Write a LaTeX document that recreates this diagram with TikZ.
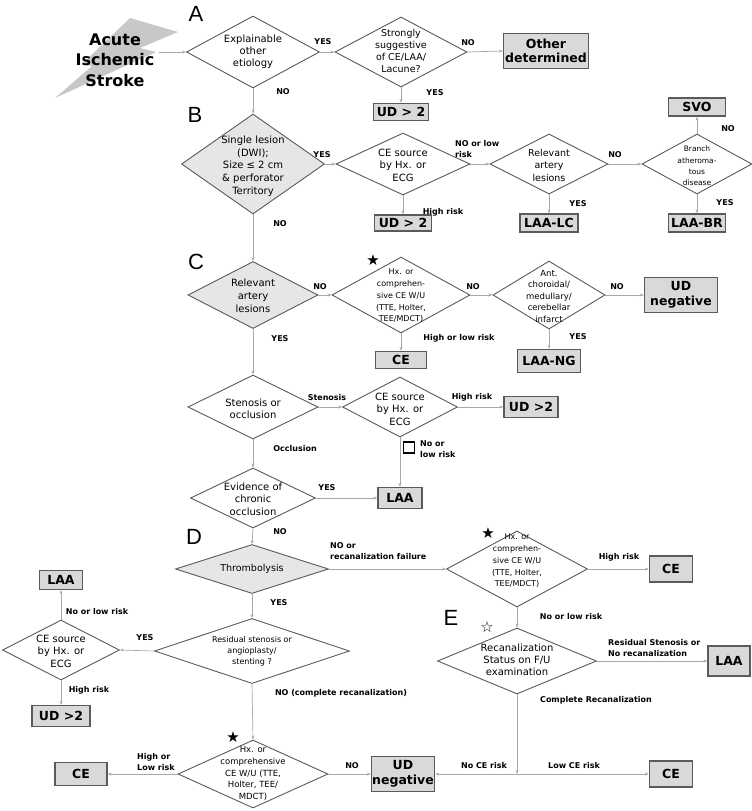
\documentclass[tikz,border=0pt]{standalone}
\usepackage{fontspec}
\setmainfont{DejaVu Sans}
\newfontfamily\letterfont{Liberation Sans}
\usetikzlibrary{arrows.meta,shapes.geometric}
\definecolor{dline}{HTML}{5A5A5A}
\definecolor{cline}{HTML}{A8A8A8}
\definecolor{bfill}{HTML}{D9D9D9}
\definecolor{dfill}{HTML}{E6E6E6}
\definecolor{boltc}{HTML}{C8C8C8}
\tikzset{
  dia/.style={diamond, draw=dline, line width=0.9pt, fill=white, inner sep=0pt},
  gdia/.style={dia, fill=dfill},
  box/.style={rectangle, draw=dline, line width=1.3pt, fill=bfill, inner sep=0pt,
    font=\bfseries\fontsize{12.5}{14.5}\selectfont, align=center},
  dt/.style={align=center, inner sep=0pt, font=\fontsize{10}{12}\selectfont},
  lab/.style={inner sep=0pt, font=\bfseries\fontsize{8}{11}\selectfont},
  labl/.style={lab, align=left, anchor=west},
  letter/.style={inner sep=0pt, font=\letterfont\fontsize{22}{22}\selectfont},
  starn/.style={inner sep=0pt, font=\fontsize{15}{15}\selectfont},
  conn/.style={draw=cline, line width=0.7pt, -{Stealth[length=4pt,width=3pt]}},
  plain/.style={draw=cline, line width=0.7pt}
}
\begin{document}
\begin{tikzpicture}[x=1pt,y=-1pt]
\useasboundingbox (0,0) rectangle (752,811);
\fill[white] (0,0) rectangle (752,811);
% lightning bolt
\fill[boltc] (130,18) -- (178,32) -- (140,48) -- (156,52) -- (55,98) -- (92,66) -- (82,64) -- cycle;
\node[inner sep=0pt, align=center, font=\bfseries\fontsize{16}{20.5}\selectfont] (stroke) at (115,60) {Acute\\Ischemic\\Stroke};
\coordinate (sout) at (159,52);

% section letters
\node[letter] (lA) at (196,14) {A};
\node[letter] (lB) at (195,115) {B};
\node[letter] (lC) at (196,262) {C};
\node[letter] (lD) at (194,537) {D};
\node[letter] (lE) at (451,618) {E};

% ---------- A ----------
\node[dia, minimum width=133, minimum height=72] (a1) at (253,52) {};
\node[dt] (a1t) at (253,52) {Explainable\\other\\etiology};
\node[dia, minimum width=132, minimum height=70] (a2) at (401,52) {};
\node[dt, font=\fontsize{9.5}{11.7}\selectfont] (a2t) at (401,51) {Strongly\\suggestive\\of CE/LAA/\\Lacune?};
\node[box, minimum width=85, minimum height=35] (od) at (546,51) {Other\\determined};
\node[box, minimum width=55, minimum height=17] (ud1) at (401,112) {UD > 2};

% ---------- B ----------
\node[gdia, minimum width=143, minimum height=100] (b1) at (253,164) {};
\node[dt, font=\fontsize{10}{12.7}\selectfont] (b1t) at (253,166) {Single lesion\\(DWI);\\Size ≤ 2 cm\\\& perforator\\Territory};
\node[dia, minimum width=134, minimum height=62] (b2) at (403,164) {};
\node[dt, font=\fontsize{10}{12.5}\selectfont] (b2t) at (403,165) {CE source\\by Hx. or\\ECG};
\node[dia, minimum width=118, minimum height=60] (b3) at (549,164) {};
\node[dt, font=\fontsize{9.5}{12.5}\selectfont] (b3t) at (549,165) {Relevant\\artery\\lesions};
\node[dia, minimum width=110, minimum height=60] (b4) at (697,164) {};
\node[dt, font=\fontsize{7.5}{11.3}\selectfont] (b4t) at (697,166) {Branch\\atheroma-\\tous\\disease};
\node[box, minimum width=57, minimum height=16] (ud2) at (403,223) {UD > 2};
\node[box, minimum width=58, minimum height=18] (laalc) at (549,223) {LAA-LC};
\node[box, minimum width=57, minimum height=18] (svo) at (697,107) {SVO};
\node[box, minimum width=57, minimum height=18] (laabr) at (697,223) {LAA-BR};

% ---------- C ----------
\node[gdia, minimum width=130, minimum height=67] (c1) at (253,295) {};
\node[dt, font=\fontsize{10}{13}\selectfont] (c1t) at (253,296) {Relevant\\artery\\lesions};
\node[dia, minimum width=138, minimum height=76] (c2) at (401,295) {};
\node[dt, font=\fontsize{8}{11.8}\selectfont] (c2t) at (401,296) {Hx. or\\comprehen-\\sive CE W/U\\(TTE, Holter,\\TEE/MDCT)};
\node[starn] (st1) at (373,260) {★};
\node[dia, minimum width=112, minimum height=68] (c3) at (549,295) {};
\node[dt, font=\fontsize{8.5}{11.5}\selectfont] (c3t) at (549,296) {Ant.\\choroidal/\\medullary/\\cerebellar\\infarct};
\node[box, minimum width=73, minimum height=35] (udn1) at (681,295) {UD\\negative};
\node[box, minimum width=63, minimum height=23] (laang) at (549,361) {LAA-NG};
\node[box, minimum width=51, minimum height=17] (ce1) at (401,360) {CE};

\node[dia, minimum width=130, minimum height=64] (c4) at (253,407) {};
\node[dt, font=\fontsize{10}{11.7}\selectfont] (c4t) at (253,408.5) {Stenosis or\\occlusion};
\node[dia, minimum width=115, minimum height=60] (c5) at (400,407) {};
\node[dt, font=\fontsize{10}{12.5}\selectfont] (c5t) at (400,409) {CE source\\by Hx. or\\ECG};
\node[box, minimum width=54, minimum height=21] (ud3) at (531,407) {UD >2};
\node[dia, minimum width=125, minimum height=60] (c6) at (253,498) {};
\node[dt, font=\fontsize{10}{12.5}\selectfont] (c6t) at (253,499) {Evidence of\\chronic\\occlusion};
\node[box, minimum width=44, minimum height=21] (laa1) at (400,498) {LAA};
\node[draw=black, line width=1.2pt, minimum size=11, inner sep=0pt] (sq) at (409,447.5) {};

% ---------- D ----------
\node[gdia, minimum width=153, minimum height=49] (d1) at (252,569) {};
\node[dt, font=\fontsize{9.5}{12}\selectfont] (d1t) at (252,569) {Thrombolysis};
\node[dia, minimum width=141, minimum height=76] (d2) at (517,569) {};
\node[dt, font=\fontsize{8}{11.7}\selectfont] (d2t) at (517,561) {Hx. or\\comprehen-\\sive CE W/U\\(TTE, Holter,\\TEE/MDCT)};
\node[starn] (st2) at (488,533) {★};
\node[box, minimum width=43, minimum height=26] (ce2) at (671,569) {CE};

\node[dia, minimum width=159, minimum height=66] (e1) at (517,661) {};
\node[dt, font=\fontsize{10}{12}\selectfont] (e1t) at (517,660) {Recanalization\\Status on F/U\\examination};
\node[starn] (st3) at (487,627) {☆};
\node[box, minimum width=42, minimum height=30] (laa2) at (729,661) {LAA};

\node[dia, minimum width=195, minimum height=65] (d3) at (252,651) {};
\node[dt, font=\fontsize{8}{11}\selectfont] (d3t) at (252,651) {Residual stenosis or\\angioplasty/\\stenting ?};
\node[dia, minimum width=117, minimum height=60] (d4) at (61,650) {};
\node[dt, font=\fontsize{10}{12.5}\selectfont] (d4t) at (61,651) {CE source\\by Hx. or\\ECG};
\node[box, minimum width=43, minimum height=19] (laa3) at (61,580) {LAA};
\node[box, minimum width=58, minimum height=21] (ud4) at (61,716) {UD >2};

\node[dia, minimum width=150, minimum height=68] (d5) at (253,774) {};
\node[dt, font=\fontsize{8.5}{11.8}\selectfont] (d5t) at (253,773.5) {Hx. or\\comprehensive\\CE W/U (TTE,\\Holter, TEE/\\MDCT)};
\node[starn] (st4) at (233,737) {★};
\node[box, minimum width=52, minimum height=23] (ce4) at (81,774) {CE};
\node[box, minimum width=63, minimum height=35] (udn2) at (403,774) {UD\\negative};
\node[box, minimum width=43, minimum height=26] (ce3) at (671,774) {CE};
\coordinate (j) at (517,774);

% ---------- connectors ----------
\draw[conn] (sout) -- (a1.west);
\draw[conn] (a1.east) -- (a2.west);
\draw[conn] (a2.east) -- (od.west);
\draw[conn] (a2.south) -- (ud1.north);
\draw[conn] (a1.south) -- (b1.north);
\draw[conn] (b1.east) -- (b2.west);
\draw[conn] (b2.east) -- (b3.west);
\draw[conn] (b2.south) -- (ud2.north);
\draw[conn] (b3.east) -- (b4.west);
\draw[conn] (b3.south) -- (laalc.north);
\draw[conn] (b4.north) -- (svo.south);
\draw[conn] (b4.south) -- (laabr.north);
\draw[conn] (b1.south) -- (c1.north);
\draw[conn] (c1.east) -- (c2.west);
\draw[conn] (c2.east) -- (c3.west);
\draw[conn] (c3.east) -- (udn1.west);
\draw[conn] (c3.south) -- (laang.north);
\draw[conn] (c2.south) -- (ce1.north);
\draw[conn] (c1.south) -- (c4.north);
\draw[conn] (c4.east) -- (c5.west);
\draw[conn] (c5.east) -- (ud3.west);
\draw[conn] (c5.south) -- (laa1.north);
\draw[conn] (c4.south) -- (c6.north);
\draw[conn] (c6.east) -- (laa1.west);
\draw[conn] (c6.south) -- (d1.north);
\draw[conn] (d1.east) -- (d2.west);
\draw[conn] (d2.east) -- (ce2.west);
\draw[conn] (d2.south) -- (e1.north);
\draw[conn] (e1.east) -- (laa2.west);
\draw[conn] (e1.south) -- (j);
\draw[conn] (j) -- (udn2.east);
\draw[conn] (j) -- (ce3.west);
\draw[conn] (d1.south) -- (d3.north);
\draw[conn] (d3.west) -- (d4.east);
\draw[conn] (d4.north) -- (laa3.south);
\draw[conn] (d4.south) -- (ud4.north);
\draw[conn] (d3.south) -- (d5.north);
\draw[conn] (d5.west) -- (ce4.east);
\draw[conn] (d5.east) -- (udn2.west);

% ---------- labels ----------
\node[lab] (t1) at (323,42) {YES};
\node[lab] (t2) at (468,43) {NO};
\node[lab] (t3) at (435,93) {YES};
\node[lab] (t4) at (283,92) {NO};
\node[lab] (t5) at (322,155) {YES};
\node[labl] (t6) at (455,149) {NO or low\\risk};
\node[lab] (t7) at (443,212) {High risk};
\node[lab] (t8) at (615,155) {NO};
\node[lab] (t9) at (578,204) {YES};
\node[lab] (t10) at (728,129) {NO};
\node[lab] (t11) at (725,203) {YES};
\node[lab] (t12) at (280,224) {NO};
\node[lab] (t13) at (320,287) {NO};
\node[lab] (t14) at (473,287) {NO};
\node[lab] (t15) at (617,287) {NO};
\node[lab] (t16) at (578,337) {YES};
\node[lab] (t17) at (459,338) {High or low risk};
\node[lab] (t18) at (280,339) {YES};
\node[lab] (t19) at (327,398) {Stenosis};
\node[lab] (t20) at (472,397) {High risk};
\node[labl] (t21) at (420,449.5) {No or\\low risk};
\node[lab] (t22) at (295,449) {Occlusion};
\node[lab] (t23) at (327,488) {YES};
\node[lab] (t24) at (280,532) {NO};
\node[labl] (t25) at (330,551) {NO or\\recanalization failure};
\node[lab] (t26) at (619,557) {High risk};
\node[lab] (t27) at (571,617) {No or low risk};
\node[lab] (t28) at (279,603) {YES};
\node[lab] (t29) at (145,638) {YES};
\node[lab] (t30) at (97,612) {No or low risk};
\node[lab] (t31) at (89,690) {High risk};
\node[lab] (t32) at (341,693) {NO (complete recanalization)};
\node[labl] (t33) at (608,648.5) {Residual Stenosis or\\No recanalization};
\node[lab] (t34) at (596,700) {Complete Recanalization};
\node[lab] (t35) at (484,766) {No CE risk};
\node[lab] (t36) at (574,766) {Low CE risk};
\node[labl] (t37) at (137,762.5) {High or\\Low risk};
\node[lab] (t38) at (352,766) {NO};
\end{tikzpicture}
\end{document}
